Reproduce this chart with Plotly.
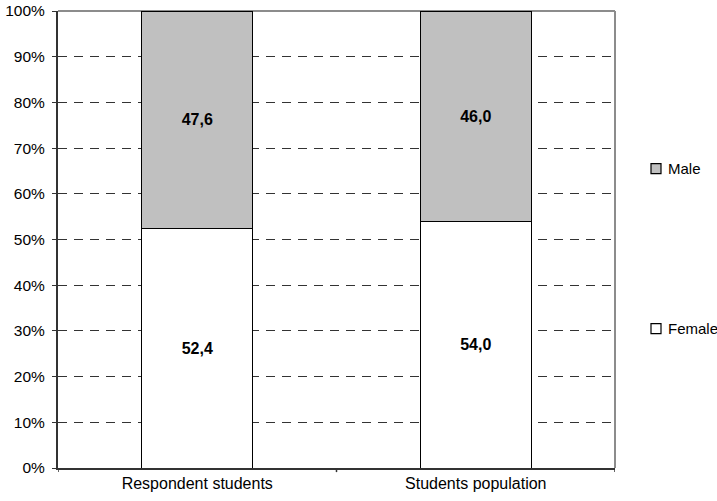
import plotly.graph_objects as go

# Gender split (%) for the two groups
categories = ["Respondent students", "Students population"]
female = [52.4, 54.0]
male = [47.6, 46.0]
y_ticks = [0, 10, 20, 30, 40, 50, 60, 70, 80, 90, 100]
y_tick_text = [f"{v}%" for v in y_ticks]

FONT = "Liberation Sans, Arial, sans-serif"
FEMALE_COLOR = "white"
MALE_COLOR = "#C0C0C0"

fig = go.Figure()
fig.add_trace(go.Bar(
    x=categories, y=female, name="Female",
    marker=dict(color=FEMALE_COLOR, line=dict(color="black", width=1)),
    width=0.4,
    texttemplate="<b>%{y:.1f}</b>", textposition="inside",
    insidetextanchor="middle", textangle=0,
    textfont=dict(family=FONT, size=16, color="black"),
    showlegend=False,
))
fig.add_trace(go.Bar(
    x=categories, y=male, name="Male",
    marker=dict(color=MALE_COLOR, line=dict(color="black", width=1)),
    width=0.4,
    texttemplate="<b>%{y:.1f}</b>", textposition="inside",
    insidetextanchor="middle", textangle=0,
    textfont=dict(family=FONT, size=16, color="black"),
    showlegend=False,
))

# gray frame on the top and right sides of the plot area
fig.add_shape(type="line", xref="paper", yref="paper", x0=0, x1=1, y0=1, y1=1,
              line=dict(color="#8c8c8c", width=2), layer="below")
fig.add_shape(type="line", xref="paper", yref="paper", x0=1, x1=1, y0=0, y1=1,
              line=dict(color="#8c8c8c", width=2), layer="below")

# tick marks between and at the edges of the category slots
for xv in [-0.5, 0.5, 1.5]:
    fig.add_shape(type="line", xref="x", yref="paper", x0=xv, x1=xv, y0=0, y1=-0.009,
                  line=dict(color="#333333", width=1.5))

# legend entries placed beside the plot, one per series
PLOT_W, PLOT_H = 557, 457
legend_items = [("Male", MALE_COLOR, 0.655), ("Female", FEMALE_COLOR, 0.305)]
for name, color, yc in legend_items:
    x0 = 1 + 36 / PLOT_W
    half = 5 / PLOT_H
    fig.add_shape(type="rect", xref="paper", yref="paper",
                  x0=x0, x1=x0 + 10 / PLOT_W, y0=yc - half, y1=yc + half,
                  fillcolor=color, line=dict(color="black", width=1.2))
    fig.add_annotation(xref="paper", yref="paper", x=x0 + 15 / PLOT_W, y=yc,
                       xanchor="left", yanchor="middle", text=name, showarrow=False,
                       font=dict(family=FONT, size=15, color="black"))

fig.update_layout(
    width=717, height=501,
    margin=dict(l=58, r=102, t=11, b=33, autoexpand=False),
    paper_bgcolor="white", plot_bgcolor="white",
    barmode="stack",
    separators=",.",
    showlegend=False,
    font=dict(family=FONT, size=15, color="black"),
    xaxis=dict(
        range=[-0.5, 1.5], showline=True, linecolor="#333333", linewidth=2,
        showgrid=False, ticks="", tickfont=dict(family=FONT, size=16),
        zeroline=False,
    ),
    yaxis=dict(
        range=[0, 100], tickmode="array", tickvals=y_ticks, ticktext=y_tick_text,
        showline=True, linecolor="#333333", linewidth=2,
        ticks="outside", ticklen=4, tickcolor="#333333", ticklabelstandoff=4,
        showgrid=True, gridcolor="#333333", gridwidth=1, griddash="9px,7px",
        zeroline=False, tickfont=dict(family=FONT, size=15.5),
    ),
)

fig.write_html("out.html")
